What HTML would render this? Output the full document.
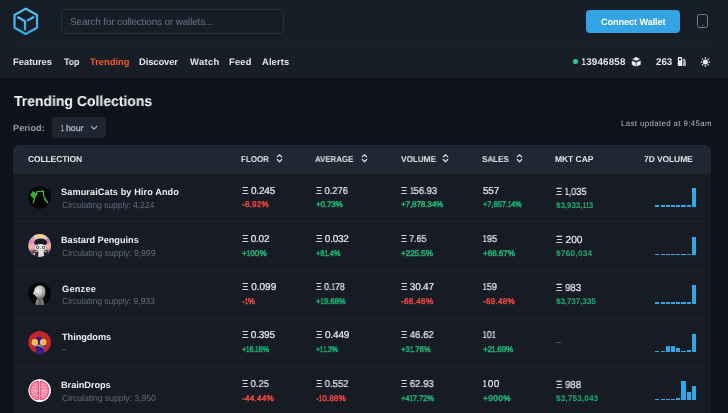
<!DOCTYPE html>
<html><head><meta charset="utf-8"><title>Trending Collections</title><style>
*{margin:0;padding:0;box-sizing:border-box}
html,body{width:728px;height:413px;overflow:hidden;background:#0e121a;font-family:"Liberation Sans",sans-serif;text-rendering:geometricPrecision}
.t{position:absolute;white-space:nowrap;line-height:1;will-change:transform}
.a{position:absolute}
</style></head><body>
<div class="a" style="left:0;top:0;width:728px;height:78px;background:#171e28"></div>
<div class="a" style="left:13.5px;top:44px;width:697.5px;height:1px;background:#1c222c"></div>
<svg class="a" style="left:0;top:0" width="60" height="44" viewBox="0 0 60 44">
<defs><linearGradient id="lg" x1="0" y1="0" x2="0" y2="1"><stop offset="0" stop-color="#55c6f2"/><stop offset="1" stop-color="#37a6e6"/></linearGradient></defs>
<g fill="none" stroke="url(#lg)" stroke-width="2.2" stroke-linejoin="round" stroke-linecap="round">
<path d="M25.7 8.6 L37 15 L37 27.7 L25.7 34 L14.5 27.7 L14.5 15 Z"/>
<path d="M18 17.3 L25 21.2 L25 29.4"/>
<path d="M27.8 20.3 L33.4 17.2"/>
</g></svg>
<div class="a" style="left:61px;top:9px;width:223px;height:25px;border:1px solid #2b323e;border-radius:5px"></div>
<div class="a" style="left:586px;top:10px;width:94px;height:23px;background:#33a3e4;border-radius:4px"></div>
<div class="a" style="left:697.2px;top:13.7px;width:10.8px;height:14.3px;border:1.6px solid #737c8c;border-radius:2.6px"></div>
<div class="a" style="left:701.9px;top:24.6px;width:1.3px;height:1.3px;background:#7d8696;border-radius:1px"></div>
<div class="a" style="left:573px;top:59.3px;width:4.5px;height:4.5px;border-radius:50%;background:#2ec88a"></div>
<svg class="a" style="left:631px;top:56px" width="11" height="12" viewBox="0 0 11 12">
<g fill="#eef0f3" stroke="#eef0f3" stroke-width="0.5" stroke-linejoin="round">
<path d="M1.9 3.1 L5.2 1.2 L8.5 3.1 L5.2 4.6 Z"/>
<path d="M1.1 4.9 L4.6 6.5 L4.6 10.2 L1.1 8.6 Z"/>
<path d="M5.8 6.5 L9.4 4.9 L9.4 8.6 L5.8 10.2 Z"/>
</g></svg>
<svg class="a" style="left:677px;top:56px" width="10" height="12" viewBox="0 0 10 12">
<rect x="0.8" y="1.1" width="4.3" height="8.9" rx="0.9" fill="#eef0f3"/>
<circle cx="3" cy="3.4" r="1.1" fill="#171e28"/>
<path d="M5.6 2.6 Q8.6 2.8 8.9 5 L8.9 9.2 Q8.9 10 8 10 L5.6 10 Z" fill="#a9b0bb"/>
<circle cx="6.6" cy="5.6" r="0.6" fill="#4a515c"/>
</svg>
<svg class="a" style="left:699px;top:55.5px" width="13" height="13" viewBox="0 0 13 13">
<circle cx="6.4" cy="5.9" r="2.5" fill="#eef0f3"/>
<g fill="#e2e5ea">
<circle cx="6.4" cy="2.1" r="0.85"/><circle cx="6.4" cy="9.9" r="0.85"/>
<circle cx="2.5" cy="6" r="0.85"/><circle cx="10.3" cy="6" r="0.85"/>
<circle cx="3.6" cy="3.2" r="0.8"/><circle cx="9.2" cy="3.2" r="0.8"/>
<circle cx="3.6" cy="8.8" r="0.8"/><circle cx="9.2" cy="8.8" r="0.8"/>
</g></svg>
<div class="a" style="left:52px;top:117.2px;width:53.6px;height:20.6px;background:#1e2530;border-radius:4px"></div>
<svg class="a" style="left:90px;top:124px" width="9" height="7" viewBox="0 0 9 7"><path d="M1.3 2.4 L4.1 5 L6.9 2.4" stroke="#aab2c0" stroke-width="1.2" fill="none" stroke-linecap="round" stroke-linejoin="round"/></svg>
<div class="a" style="left:12.8px;top:145px;width:698.4px;height:280px;background:#161b24;border-radius:6px;overflow:hidden"><div style="height:28.7px;background:#1f2732"></div></div>
<svg class="a" style="left:275.5px;top:153px" width="7" height="12" viewBox="0 0 7 12"><path d="M1.3 3.9 L3.5 1.7 L5.7 3.9 M1.3 6.5 L3.5 8.7 L5.7 6.5" stroke="#d5d9df" stroke-width="1.3" fill="none" stroke-linecap="round" stroke-linejoin="round"/></svg>
<svg class="a" style="left:360.6px;top:153px" width="7" height="12" viewBox="0 0 7 12"><path d="M1.3 3.9 L3.5 1.7 L5.7 3.9 M1.3 6.5 L3.5 8.7 L5.7 6.5" stroke="#d5d9df" stroke-width="1.3" fill="none" stroke-linecap="round" stroke-linejoin="round"/></svg>
<svg class="a" style="left:442.1px;top:153px" width="7" height="12" viewBox="0 0 7 12"><path d="M1.3 3.9 L3.5 1.7 L5.7 3.9 M1.3 6.5 L3.5 8.7 L5.7 6.5" stroke="#d5d9df" stroke-width="1.3" fill="none" stroke-linecap="round" stroke-linejoin="round"/></svg>
<svg class="a" style="left:515.9px;top:153px" width="7" height="12" viewBox="0 0 7 12"><path d="M1.3 3.9 L3.5 1.7 L5.7 3.9 M1.3 6.5 L3.5 8.7 L5.7 6.5" stroke="#d5d9df" stroke-width="1.3" fill="none" stroke-linecap="round" stroke-linejoin="round"/></svg>
<svg class="a" style="left:28.3px;top:185.70px;clip-path:circle(50%)" width="23" height="23" viewBox="0 0 23 23"><circle cx="11.5" cy="11.5" r="11.5" fill="#050505"/>
<path d="M2.2 9 L4.9 5 L9.4 8.6 L6.2 13.2 Z" fill="#3fbf3f"/>
<path d="M3.2 7.8 L7.6 11.2 M4.2 6.5 L8.6 9.9 M3.6 10.3 L6.6 5.9 M5 11.6 L8 7.3" stroke="#2a8a2a" stroke-width="0.45"/>
<g stroke="#3fbf3f" stroke-width="1.2" fill="none" stroke-linejoin="round" stroke-linecap="round">
<path d="M6.7 12.6 L5.2 16.9"/>
<path d="M8.6 8.5 L9 5.5 L14.5 5.5 L14.6 4.4 L15.4 5.8 L15.4 9.3 L17.1 12.2 L19.8 16.9"/>
</g>
<path d="M16 12.5 L18.2 16.2" stroke="#8a7a8a" stroke-width="0.9"/></svg>
<div class="a" style="left:655.30px;top:205.40px;width:4.2px;height:1.5px;background:#2fa8ea"></div>
<div class="a" style="left:660.52px;top:205.40px;width:4.2px;height:1.5px;background:#2fa8ea"></div>
<div class="a" style="left:665.74px;top:205.40px;width:4.2px;height:1.5px;background:#2fa8ea"></div>
<div class="a" style="left:670.96px;top:205.40px;width:4.2px;height:1.5px;background:#2fa8ea"></div>
<div class="a" style="left:676.18px;top:205.40px;width:4.2px;height:1.5px;background:#2fa8ea"></div>
<div class="a" style="left:681.40px;top:205.40px;width:4.2px;height:1.5px;background:#2fa8ea"></div>
<div class="a" style="left:686.62px;top:205.40px;width:4.2px;height:1.5px;background:#2fa8ea"></div>
<div class="a" style="left:691.84px;top:187.90px;width:4.2px;height:19px;background:#2fa8ea"></div>
<div class="a" style="left:12.8px;top:221.43px;width:698.4px;height:1px;background:#1d232d"></div>
<svg class="a" style="left:28.3px;top:234.03px;clip-path:circle(50%)" width="23" height="23" viewBox="0 0 23 23"><defs><filter id="bpb" x="-0.3" y="-0.3" width="1.6" height="1.6"><feGaussianBlur stdDeviation="1.1"/></filter></defs>
<circle cx="11.5" cy="11.5" r="11.5" fill="#d9a2c4"/>
<g filter="url(#bpb)">
<ellipse cx="12" cy="2.2" rx="8" ry="3.2" fill="#efd39a"/>
<ellipse cx="3" cy="7.5" rx="2.6" ry="3" fill="#dd84c4"/>
<ellipse cx="2.8" cy="13" rx="2.6" ry="2.6" fill="#ebc487"/>
<ellipse cx="4" cy="19" rx="4" ry="3.2" fill="#8c3c8e"/>
<ellipse cx="20" cy="7" rx="2.6" ry="3" fill="#d678bb"/>
<ellipse cx="21" cy="12.5" rx="2.2" ry="2.6" fill="#e9c48c"/>
<ellipse cx="19.5" cy="18.5" rx="3.2" ry="3.2" fill="#9a4898"/>
<circle cx="5" cy="3.5" r="1.4" fill="#9ab4dc"/>
</g>
<path d="M4.8 23 L5.5 16.5 L19.8 16.5 L20.2 23 Z" fill="#26222b"/>
<ellipse cx="12.6" cy="8.4" rx="6.5" ry="3.8" fill="#1c1b1e"/>
<ellipse cx="12.6" cy="13.6" rx="5.9" ry="3.5" fill="#e4e4e8"/>
<circle cx="9.7" cy="13.4" r="1.6" fill="#5a5a62"/><circle cx="15.7" cy="13.4" r="1.6" fill="#5a5a62"/>
<circle cx="9.7" cy="13.4" r="0.7" fill="#f0f0f0"/><circle cx="15.7" cy="13.4" r="0.7" fill="#f0f0f0"/>
<path d="M11.8 14.3 L13.6 14.3 L12.7 15.6 Z" fill="#d98a2e"/>
<path d="M10.2 23 L10.4 16.6 L15.8 16.6 L16 23 Z" fill="#dcdce0"/>
<path d="M6 17.8 L10.2 17.4" stroke="#d8c256" stroke-width="0.9"/><path d="M15.8 17.4 L19 17.8" stroke="#d8c256" stroke-width="0.9"/>
<rect x="5.5" y="19" width="1.6" height="2.2" fill="#c8c8cc"/></svg>
<div class="a" style="left:655.30px;top:253.73px;width:4.2px;height:1.5px;background:#2fa8ea"></div>
<div class="a" style="left:660.52px;top:253.73px;width:4.2px;height:1.5px;background:#2fa8ea"></div>
<div class="a" style="left:665.74px;top:253.73px;width:4.2px;height:1.5px;background:#2fa8ea"></div>
<div class="a" style="left:670.96px;top:253.73px;width:4.2px;height:1.5px;background:#2fa8ea"></div>
<div class="a" style="left:676.18px;top:253.73px;width:4.2px;height:1.5px;background:#2fa8ea"></div>
<div class="a" style="left:681.40px;top:253.73px;width:4.2px;height:1.5px;background:#2fa8ea"></div>
<div class="a" style="left:686.62px;top:253.73px;width:4.2px;height:1.5px;background:#2fa8ea"></div>
<div class="a" style="left:691.84px;top:236.73px;width:4.2px;height:18.5px;background:#2fa8ea"></div>
<div class="a" style="left:12.8px;top:269.76px;width:698.4px;height:1px;background:#1d232d"></div>
<svg class="a" style="left:28.3px;top:282.36px;clip-path:circle(50%)" width="23" height="23" viewBox="0 0 23 23"><defs><radialGradient id="gzg" cx="0.4" cy="0.4" r="0.7"><stop offset="0" stop-color="#ececec"/><stop offset="0.5" stop-color="#c8c8c8"/><stop offset="1" stop-color="#6a6a6a"/></radialGradient>
<linearGradient id="gzn" x1="0" y1="0" x2="1" y2="0"><stop offset="0" stop-color="#9a9a9a"/><stop offset="0.5" stop-color="#5e5e5e"/><stop offset="1" stop-color="#8a8a8a"/></linearGradient></defs>
<circle cx="11.5" cy="11.5" r="11.5" fill="#050505"/>
<path d="M7.5 23 Q7.6 18.5 9.6 15.6 L14.2 15.6 Q15.9 18.5 16 23 Z" fill="url(#gzn)"/>
<path d="M6.4 7.2 Q8 3.5 12 3.4 Q16.5 3.5 17.3 7.8 L17.6 11.3 Q17.3 14.5 15.2 15.9 L9.6 15.9 Q7.6 15.1 7.1 13.6 L5.8 12.6 L4.8 11.2 L5.9 9.6 Z" fill="url(#gzg)"/>
<path d="M13.5 6 Q15.5 8 14.8 12 Q14.5 14 13.2 15" stroke="#8e8e8e" stroke-width="0.7" fill="none" opacity="0.7"/></svg>
<div class="a" style="left:655.30px;top:302.06px;width:4.2px;height:1.5px;background:#2fa8ea"></div>
<div class="a" style="left:660.52px;top:302.06px;width:4.2px;height:1.5px;background:#2fa8ea"></div>
<div class="a" style="left:665.74px;top:302.06px;width:4.2px;height:1.5px;background:#2fa8ea"></div>
<div class="a" style="left:670.96px;top:302.06px;width:4.2px;height:1.5px;background:#2fa8ea"></div>
<div class="a" style="left:676.18px;top:302.06px;width:4.2px;height:1.5px;background:#2fa8ea"></div>
<div class="a" style="left:681.40px;top:302.06px;width:4.2px;height:1.5px;background:#2fa8ea"></div>
<div class="a" style="left:686.62px;top:302.06px;width:4.2px;height:1.5px;background:#2fa8ea"></div>
<div class="a" style="left:691.84px;top:285.06px;width:4.2px;height:18.5px;background:#2fa8ea"></div>
<div class="a" style="left:12.8px;top:318.09px;width:698.4px;height:1px;background:#1d232d"></div>
<svg class="a" style="left:28.3px;top:330.69px;clip-path:circle(50%)" width="23" height="23" viewBox="0 0 23 23"><circle cx="11.5" cy="11.5" r="11.5" fill="#c3262b"/>
<path d="M8.4 6.6 Q11 4.9 13.9 6.4 L14.6 12 Q17.4 13.6 17.3 15.6 Q16.5 17 15.7 17.2 Q16.3 20 16.1 23 L8 23 Q7.8 20 8.5 17.2 Q6.2 16.6 5.6 15.2 Q5.8 13.6 8 12 Z" fill="#31208a"/>
<circle cx="6.8" cy="11.2" r="3.2" fill="#f5c45e"/><circle cx="15.2" cy="11.2" r="3.2" fill="#f5c45e"/>
<path d="M5.6 15.4 Q10 13.4 15.6 14.2 M8 14.2 Q12.5 15.2 16.6 17" stroke="#f0b85a" stroke-width="0.8" fill="none"/>
<path d="M5.2 11.2 L8.2 11.2 M13.6 11.2 L16.6 11.2" stroke="#9a7a5a" stroke-width="0.45"/></svg>
<div class="a" style="left:655.30px;top:350.59px;width:4.2px;height:1.3px;background:#2fa8ea"></div>
<div class="a" style="left:660.52px;top:350.59px;width:4.2px;height:1.3px;background:#2fa8ea"></div>
<div class="a" style="left:665.74px;top:345.69px;width:4.2px;height:6.2px;background:#2fa8ea"></div>
<div class="a" style="left:670.96px;top:345.69px;width:4.2px;height:6.2px;background:#2fa8ea"></div>
<div class="a" style="left:676.18px;top:348.49px;width:4.2px;height:3.4px;background:#2fa8ea"></div>
<div class="a" style="left:681.40px;top:350.59px;width:4.2px;height:1.3px;background:#2fa8ea"></div>
<div class="a" style="left:686.62px;top:350.19px;width:4.2px;height:1.7px;background:#2fa8ea"></div>
<div class="a" style="left:691.84px;top:333.59px;width:4.2px;height:18.3px;background:#2fa8ea"></div>
<div class="a" style="left:12.8px;top:366.42px;width:698.4px;height:1px;background:#1d232d"></div>
<svg class="a" style="left:28.3px;top:379.02px;clip-path:circle(50%)" width="23" height="23" viewBox="0 0 23 23"><circle cx="11.5" cy="11.5" r="11.5" fill="#fbf8f9"/>
<g fill="#f47a9c" stroke="#ef3f70" stroke-width="0.9">
<path d="M10.6 2.3 Q5.8 2.2 3.4 5.8 Q1.7 9 2.1 12.6 Q2.5 17.6 6 19.7 Q8.6 21 10.6 20.4 Z"/>
<path d="M12.2 2.3 Q17 2.2 19.4 5.8 Q21.1 9 20.7 12.6 Q20.3 17.6 16.8 19.7 Q14.2 21 12.2 20.4 Z"/>
</g>
<g stroke="#fde3ea" stroke-width="0.6" fill="none">
<path d="M4 8 Q6 9.2 8.5 7.5 Q9.5 8.5 10 8 M3.4 12 Q6 10.8 9.5 12.5 M4.5 16 Q7 14.8 9.8 16.5 M6 4.6 Q7.2 6.6 9.6 4.8 M6.8 9.6 L8 14.2 M3.8 14 L6.5 13.4 M6 18.4 L8.8 17.4 M5 10 L5.6 11 M8.6 10 L9.6 10.6"/>
<path d="M18.8 8 Q16.8 9.2 14.3 7.5 Q13.3 8.5 12.8 8 M19.4 12 Q16.8 10.8 13.3 12.5 M18.3 16 Q15.8 14.8 13 16.5 M16.8 4.6 Q15.6 6.6 13.2 4.8 M16 9.6 L14.8 14.2 M19 14 L16.3 13.4 M16.8 18.4 L14 17.4 M17.8 10 L17.2 11 M14.2 10 L13.2 10.6"/>
</g></svg>
<div class="a" style="left:655.30px;top:398.82px;width:4.2px;height:1.4px;background:#2fa8ea"></div>
<div class="a" style="left:660.52px;top:398.82px;width:4.2px;height:1.4px;background:#2fa8ea"></div>
<div class="a" style="left:665.74px;top:398.82px;width:4.2px;height:1.4px;background:#2fa8ea"></div>
<div class="a" style="left:670.96px;top:398.82px;width:4.2px;height:1.4px;background:#2fa8ea"></div>
<div class="a" style="left:676.18px;top:398.42px;width:4.2px;height:1.8px;background:#2fa8ea"></div>
<div class="a" style="left:681.40px;top:381.42px;width:4.2px;height:18.8px;background:#2fa8ea"></div>
<div class="a" style="left:686.62px;top:391.82px;width:4.2px;height:8.4px;background:#2fa8ea"></div>
<div class="a" style="left:691.84px;top:385.52px;width:4.2px;height:14.7px;background:#2fa8ea"></div>
<div class="a" style="left:556.1px;top:341.8px;width:5px;height:1px;background:#4d5563"></div>
<div class="a" style="left:62.1px;top:348.8px;width:4.2px;height:1px;background:#4d5563"></div>
<div class="t" style="left:70.05px;top:18.09px;font-size:10px;color:#6b7380;letter-spacing:-0.169px;">Search for collections or wallets...</div>
<div class="t" style="left:600.70px;top:18.00px;font-size:9.2px;color:#ffffff;font-weight:700;letter-spacing:-0.108px;">Connect Wallet</div>
<div class="t" style="left:13.24px;top:57.10px;font-size:9.4px;color:#e4e7eb;font-weight:700;letter-spacing:-0.006px;">Features</div>
<div class="t" style="left:63.80px;top:57.10px;font-size:9.4px;color:#e4e7eb;font-weight:700;transform:scaleX(0.9318);transform-origin:0 0;">Top</div>
<div class="t" style="left:90.30px;top:57.10px;font-size:9.4px;color:#f25a2e;font-weight:700;letter-spacing:-0.014px;">Trending</div>
<div class="t" style="left:139.24px;top:57.10px;font-size:9.4px;color:#e4e7eb;font-weight:700;letter-spacing:-0.091px;">Discover</div>
<div class="t" style="left:189.60px;top:57.10px;font-size:9.4px;color:#e4e7eb;font-weight:700;letter-spacing:0.377px;">Watch</div>
<div class="t" style="left:228.74px;top:57.10px;font-size:9.4px;color:#e4e7eb;font-weight:700;letter-spacing:0.188px;">Feed</div>
<div class="t" style="left:261.50px;top:57.10px;font-size:9.4px;color:#e4e7eb;font-weight:700;letter-spacing:0.108px;">Alerts</div>
<div class="t" style="left:582.00px;top:57.80px;font-size:9.8px;color:#e4e7eb;font-weight:700;letter-spacing:0.186px;"><span style="display:inline-block;transform:scaleX(0.72);margin-left:-0.735px;margin-right:-0.549px;letter-spacing:0">1</span>3946858</div>
<div class="t" style="left:656.20px;top:57.80px;font-size:9.8px;color:#e4e7eb;font-weight:700;letter-spacing:-0.027px;">263</div>
<div class="t" style="left:14.20px;top:94.60px;font-size:14.5px;color:#f3f4f6;font-weight:700;transform:scaleX(0.9636);transform-origin:0 0;">Trending Collections</div>
<div class="t" style="left:13.25px;top:124.30px;font-size:9.1px;color:#959eb0;font-weight:700;letter-spacing:0.062px;">Period:</div>
<div class="t" style="left:60.90px;top:123.91px;font-size:8.8px;color:#aab2c0;-webkit-text-stroke:0.35px currentColor;transform:scaleX(0.52);transform-origin:0 0;">1</div>
<div class="t" style="left:65.80px;top:123.88px;font-size:8.8px;color:#aab2c0;letter-spacing:-0.033px;-webkit-text-stroke:0.35px currentColor;">hour</div>
<div class="t" style="left:620.72px;top:120.30px;font-size:7.9px;color:#b0b6c0;letter-spacing:0.367px;">Last updated at 9:45am</div>
<div class="t" style="left:27.50px;top:155.00px;font-size:8.5px;color:#e2e5ea;font-weight:700;letter-spacing:-0.133px;">COLLECTION</div>
<div class="t" style="left:241.00px;top:155.00px;font-size:8.5px;color:#e2e5ea;font-weight:700;transform:scaleX(0.9418);transform-origin:0 0;">FLOOR</div>
<div class="t" style="left:314.80px;top:155.00px;font-size:8.5px;color:#e2e5ea;font-weight:700;transform:scaleX(0.9262);transform-origin:0 0;">AVERAGE</div>
<div class="t" style="left:400.70px;top:155.00px;font-size:8.5px;color:#e2e5ea;font-weight:700;transform:scaleX(0.9602);transform-origin:0 0;">VOLUME</div>
<div class="t" style="left:481.89px;top:155.00px;font-size:8.5px;color:#e2e5ea;font-weight:700;transform:scaleX(0.9403);transform-origin:0 0;">SALES</div>
<div class="t" style="left:555.00px;top:155.00px;font-size:8.5px;color:#e2e5ea;font-weight:700;letter-spacing:-0.056px;">MKT CAP</div>
<div class="t" style="left:643.60px;top:155.00px;font-size:8.5px;color:#e2e5ea;font-weight:700;letter-spacing:-0.101px;">7D VOLUME</div>
<div class="t" style="left:61.29px;top:188.00px;font-size:9.2px;color:#eceef1;font-weight:700;letter-spacing:0.079px;">SamuraiCats by Hiro Ando</div>
<div class="t" style="left:61.80px;top:200.75px;font-size:8.8px;color:#606a7b;letter-spacing:-0.165px;">Circulating supply: 4,224</div>
<div class="t" style="left:241.80px;top:186.50px;font-size:10.0px;color:#e9ebef;letter-spacing:-0.167px;-webkit-text-stroke:0.22px currentColor;">Ξ 0.245</div>
<div class="t" style="left:241.80px;top:201.40px;font-size:8.2px;color:#e5463f;letter-spacing:0.16px;-webkit-text-stroke:0.5px currentColor;">-8.92%</div>
<div class="t" style="left:316.00px;top:186.50px;font-size:10.0px;color:#e9ebef;-webkit-text-stroke:0.22px currentColor;transform:scaleX(0.9294);transform-origin:0 0;">Ξ 0.276</div>
<div class="t" style="left:316.00px;top:201.40px;font-size:8.2px;color:#1fb477;letter-spacing:-0.24px;-webkit-text-stroke:0.5px currentColor;">+0.73%</div>
<div class="t" style="left:401.10px;top:186.50px;font-size:10.0px;color:#e9ebef;-webkit-text-stroke:0.22px currentColor;transform:scaleX(0.9395);transform-origin:0 0;">Ξ <span style="display:inline-block;transform:scaleX(0.72);margin-left:-0.75px;margin-right:-0.75px;letter-spacing:0">1</span>56.93</div>
<div class="t" style="left:401.10px;top:201.40px;font-size:8.2px;color:#1fb477;letter-spacing:-0.178px;-webkit-text-stroke:0.5px currentColor;">+7,878.34%</div>
<div class="t" style="left:483.30px;top:186.50px;font-size:10.0px;color:#e9ebef;letter-spacing:-0.231px;-webkit-text-stroke:0.22px currentColor;">557</div>
<div class="t" style="left:483.30px;top:201.40px;font-size:8.2px;color:#1fb477;-webkit-text-stroke:0.5px currentColor;transform:scaleX(0.9047);transform-origin:0 0;">+7,857.<span style="display:inline-block;transform:scaleX(0.72);margin-left:-0.615px;margin-right:-0.615px;letter-spacing:0">1</span>4%</div>
<div class="t" style="left:556.10px;top:187.61px;font-size:10.2px;color:#e9ebef;-webkit-text-stroke:0.22px currentColor;transform:scaleX(0.9165);transform-origin:0 0;">Ξ <span style="display:inline-block;transform:scaleX(0.72);margin-left:-0.765px;margin-right:-0.765px;letter-spacing:0">1</span>,035</div>
<div class="t" style="left:556.10px;top:201.60px;font-size:8.2px;color:#20b074;font-weight:700;letter-spacing:-0.14px;">$3,933,<span style="display:inline-block;transform:scaleX(0.72);margin-left:-0.615px;margin-right:-0.755px;letter-spacing:0">1</span><span style="display:inline-block;transform:scaleX(0.72);margin-left:-0.615px;margin-right:-0.755px;letter-spacing:0">1</span>3</div>
<div class="t" style="left:61.25px;top:236.33px;font-size:9.2px;color:#eceef1;font-weight:700;letter-spacing:-0.024px;">Bastard Penguins</div>
<div class="t" style="left:61.80px;top:249.08px;font-size:8.8px;color:#606a7b;letter-spacing:-0.117px;">Circulating supply: 9,999</div>
<div class="t" style="left:241.80px;top:234.83px;font-size:10.0px;color:#e9ebef;letter-spacing:-0.249px;-webkit-text-stroke:0.22px currentColor;">Ξ 0.02</div>
<div class="t" style="left:241.80px;top:249.73px;font-size:8.2px;color:#1fb477;letter-spacing:0.05px;-webkit-text-stroke:0.5px currentColor;">+<span style="display:inline-block;transform:scaleX(0.72);margin-left:-0.615px;margin-right:-0.565px;letter-spacing:0">1</span>00%</div>
<div class="t" style="left:316.00px;top:234.83px;font-size:10.0px;color:#e9ebef;letter-spacing:-0.233px;-webkit-text-stroke:0.22px currentColor;">Ξ 0.032</div>
<div class="t" style="left:316.00px;top:249.73px;font-size:8.2px;color:#1fb477;-webkit-text-stroke:0.5px currentColor;transform:scaleX(0.9148);transform-origin:0 0;">+8<span style="display:inline-block;transform:scaleX(0.72);margin-left:-0.615px;margin-right:-0.615px;letter-spacing:0">1</span>.4%</div>
<div class="t" style="left:401.10px;top:234.83px;font-size:10.0px;color:#e9ebef;-webkit-text-stroke:0.22px currentColor;transform:scaleX(0.8828);transform-origin:0 0;">Ξ 7.65</div>
<div class="t" style="left:401.10px;top:249.73px;font-size:8.2px;color:#1fb477;letter-spacing:-0.1px;-webkit-text-stroke:0.5px currentColor;">+225.5%</div>
<div class="t" style="left:483.30px;top:234.83px;font-size:10.0px;color:#e9ebef;-webkit-text-stroke:0.22px currentColor;transform:scaleX(0.94);transform-origin:0 0;"><span style="display:inline-block;transform:scaleX(0.72);margin-left:-0.75px;margin-right:-0.75px;letter-spacing:0">1</span>95</div>
<div class="t" style="left:483.30px;top:249.73px;font-size:8.2px;color:#1fb477;letter-spacing:-0.1px;-webkit-text-stroke:0.5px currentColor;">+66.67%</div>
<div class="t" style="left:556.10px;top:235.94px;font-size:10.2px;color:#e9ebef;letter-spacing:0.016px;-webkit-text-stroke:0.22px currentColor;">Ξ 200</div>
<div class="t" style="left:556.10px;top:249.93px;font-size:8.2px;color:#20b074;font-weight:700;letter-spacing:0.282px;">$760,034</div>
<div class="t" style="left:61.80px;top:284.66px;font-size:9.2px;color:#eceef1;font-weight:700;letter-spacing:0.231px;">Genzee</div>
<div class="t" style="left:61.80px;top:297.41px;font-size:8.8px;color:#606a7b;letter-spacing:-0.146px;">Circulating supply: 9,933</div>
<div class="t" style="left:241.80px;top:283.16px;font-size:10.0px;color:#e9ebef;letter-spacing:-0.017px;-webkit-text-stroke:0.22px currentColor;">Ξ 0.099</div>
<div class="t" style="left:241.80px;top:298.06px;font-size:8.2px;color:#e5463f;letter-spacing:-0.175px;-webkit-text-stroke:0.5px currentColor;">-<span style="display:inline-block;transform:scaleX(0.72);margin-left:-0.615px;margin-right:-0.79px;letter-spacing:0">1</span>%</div>
<div class="t" style="left:316.00px;top:283.16px;font-size:10.0px;color:#e9ebef;-webkit-text-stroke:0.22px currentColor;transform:scaleX(0.8758);transform-origin:0 0;">Ξ 0.<span style="display:inline-block;transform:scaleX(0.72);margin-left:-0.75px;margin-right:-0.75px;letter-spacing:0">1</span>78</div>
<div class="t" style="left:316.00px;top:298.06px;font-size:8.2px;color:#1fb477;-webkit-text-stroke:0.5px currentColor;transform:scaleX(0.9504);transform-origin:0 0;">+<span style="display:inline-block;transform:scaleX(0.72);margin-left:-0.615px;margin-right:-0.615px;letter-spacing:0">1</span>9.68%</div>
<div class="t" style="left:401.10px;top:283.16px;font-size:10.0px;color:#e9ebef;letter-spacing:-0.217px;-webkit-text-stroke:0.22px currentColor;">Ξ 30.47</div>
<div class="t" style="left:401.10px;top:298.06px;font-size:8.2px;color:#e5463f;letter-spacing:0.283px;-webkit-text-stroke:0.5px currentColor;">-66.46%</div>
<div class="t" style="left:483.30px;top:283.16px;font-size:10.0px;color:#e9ebef;-webkit-text-stroke:0.22px currentColor;transform:scaleX(0.92);transform-origin:0 0;"><span style="display:inline-block;transform:scaleX(0.72);margin-left:-0.75px;margin-right:-0.75px;letter-spacing:0">1</span>59</div>
<div class="t" style="left:483.30px;top:298.06px;font-size:8.2px;color:#e5463f;letter-spacing:0.233px;-webkit-text-stroke:0.5px currentColor;">-69.48%</div>
<div class="t" style="left:556.10px;top:284.27px;font-size:10.2px;color:#e9ebef;-webkit-text-stroke:0.22px currentColor;transform:scaleX(0.953);transform-origin:0 0;">Ξ 983</div>
<div class="t" style="left:556.10px;top:298.26px;font-size:8.2px;color:#20b074;font-weight:700;letter-spacing:-0.144px;">$3,737,335</div>
<div class="t" style="left:61.80px;top:332.99px;font-size:9.2px;color:#eceef1;font-weight:700;letter-spacing:-0.04px;">Thingdoms</div>
<div class="t" style="left:241.80px;top:331.49px;font-size:10.0px;color:#e9ebef;letter-spacing:-0.217px;-webkit-text-stroke:0.22px currentColor;">Ξ 0.395</div>
<div class="t" style="left:241.80px;top:346.39px;font-size:8.2px;color:#1fb477;-webkit-text-stroke:0.5px currentColor;transform:scaleX(0.8991);transform-origin:0 0;">+<span style="display:inline-block;transform:scaleX(0.72);margin-left:-0.615px;margin-right:-0.615px;letter-spacing:0">1</span>6.<span style="display:inline-block;transform:scaleX(0.72);margin-left:-0.615px;margin-right:-0.615px;letter-spacing:0">1</span>8%</div>
<div class="t" style="left:316.00px;top:331.49px;font-size:10.0px;color:#e9ebef;letter-spacing:-0.15px;-webkit-text-stroke:0.22px currentColor;">Ξ 0.449</div>
<div class="t" style="left:316.00px;top:346.39px;font-size:8.2px;color:#1fb477;-webkit-text-stroke:0.5px currentColor;transform:scaleX(0.8577);transform-origin:0 0;">+<span style="display:inline-block;transform:scaleX(0.72);margin-left:-0.615px;margin-right:-0.615px;letter-spacing:0">1</span><span style="display:inline-block;transform:scaleX(0.72);margin-left:-0.615px;margin-right:-0.615px;letter-spacing:0">1</span>.3%</div>
<div class="t" style="left:401.10px;top:331.49px;font-size:10.0px;color:#e9ebef;-webkit-text-stroke:0.22px currentColor;transform:scaleX(0.9529);transform-origin:0 0;">Ξ 46.62</div>
<div class="t" style="left:401.10px;top:346.39px;font-size:8.2px;color:#1fb477;-webkit-text-stroke:0.5px currentColor;transform:scaleX(0.9472);transform-origin:0 0;">+3<span style="display:inline-block;transform:scaleX(0.72);margin-left:-0.615px;margin-right:-0.615px;letter-spacing:0">1</span>.76%</div>
<div class="t" style="left:483.30px;top:331.49px;font-size:10.0px;color:#e9ebef;-webkit-text-stroke:0.22px currentColor;transform:scaleX(0.9211);transform-origin:0 0;"><span style="display:inline-block;transform:scaleX(0.72);margin-left:-0.75px;margin-right:-0.75px;letter-spacing:0">1</span>0<span style="display:inline-block;transform:scaleX(0.72);margin-left:-0.75px;margin-right:-0.75px;letter-spacing:0">1</span></div>
<div class="t" style="left:483.30px;top:346.39px;font-size:8.2px;color:#1fb477;letter-spacing:-0.175px;-webkit-text-stroke:0.5px currentColor;">+2<span style="display:inline-block;transform:scaleX(0.72);margin-left:-0.615px;margin-right:-0.79px;letter-spacing:0">1</span>.69%</div>
<div class="t" style="left:61.25px;top:381.32px;font-size:9.2px;color:#eceef1;font-weight:700;letter-spacing:-0.039px;">BrainDrops</div>
<div class="t" style="left:61.80px;top:394.07px;font-size:8.8px;color:#606a7b;letter-spacing:-0.1px;">Circulating supply: 3,950</div>
<div class="t" style="left:241.80px;top:379.82px;font-size:10.0px;color:#e9ebef;-webkit-text-stroke:0.22px currentColor;transform:scaleX(0.9379);transform-origin:0 0;">Ξ 0.25</div>
<div class="t" style="left:241.80px;top:394.72px;font-size:8.2px;color:#e5463f;letter-spacing:0.2px;-webkit-text-stroke:0.5px currentColor;">-44.44%</div>
<div class="t" style="left:316.00px;top:379.82px;font-size:10.0px;color:#e9ebef;-webkit-text-stroke:0.22px currentColor;transform:scaleX(0.9471);transform-origin:0 0;">Ξ 0.552</div>
<div class="t" style="left:316.00px;top:394.72px;font-size:8.2px;color:#e5463f;letter-spacing:0.075px;-webkit-text-stroke:0.5px currentColor;">-<span style="display:inline-block;transform:scaleX(0.72);margin-left:-0.615px;margin-right:-0.54px;letter-spacing:0">1</span>0.88%</div>
<div class="t" style="left:401.10px;top:379.82px;font-size:10.0px;color:#e9ebef;-webkit-text-stroke:0.22px currentColor;transform:scaleX(0.9529);transform-origin:0 0;">Ξ 62.93</div>
<div class="t" style="left:401.10px;top:394.72px;font-size:8.2px;color:#1fb477;-webkit-text-stroke:0.5px currentColor;transform:scaleX(0.9222);transform-origin:0 0;">+4<span style="display:inline-block;transform:scaleX(0.72);margin-left:-0.615px;margin-right:-0.615px;letter-spacing:0">1</span>7.72%</div>
<div class="t" style="left:483.30px;top:379.82px;font-size:10.0px;color:#e9ebef;letter-spacing:0.55px;-webkit-text-stroke:0.22px currentColor;"><span style="display:inline-block;transform:scaleX(0.72);margin-left:-0.75px;margin-right:-0.2px;letter-spacing:0">1</span>00</div>
<div class="t" style="left:483.30px;top:394.72px;font-size:8.2px;color:#1fb477;letter-spacing:0.475px;-webkit-text-stroke:0.5px currentColor;">+900%</div>
<div class="t" style="left:556.10px;top:380.93px;font-size:10.2px;color:#e9ebef;-webkit-text-stroke:0.22px currentColor;transform:scaleX(0.9527);transform-origin:0 0;">Ξ 988</div>
<div class="t" style="left:556.10px;top:394.92px;font-size:8.2px;color:#20b074;font-weight:700;letter-spacing:0.133px;">$3,753,043</div>

</body></html>
